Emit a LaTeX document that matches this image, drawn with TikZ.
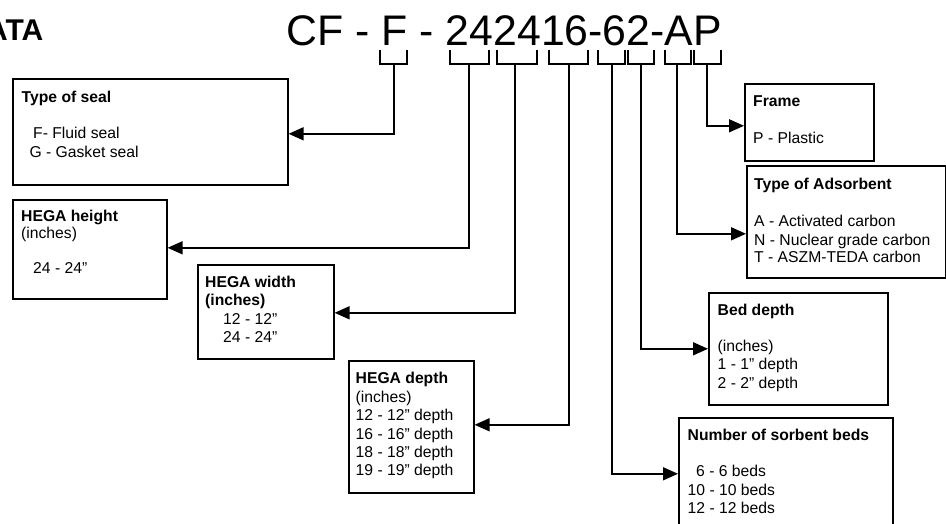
\documentclass[tikz,border=0pt]{standalone}
\usepackage{fontspec}
\setmainfont{Liberation Sans}
\usetikzlibrary{arrows.meta}
\begin{document}
\begin{tikzpicture}[x=1pt,y=-1pt,
  box/.style={draw, line width=1.6pt, rectangle, inner sep=0pt, anchor=north west},
  conn/.style={line width=1.5pt, -{Triangle[length=15pt,width=13pt]}},
  brk/.style={line width=1.4pt},
  txt/.style={anchor=base west, inner sep=0pt, font=\fontsize{15.7}{18}\selectfont},
  btxt/.style={anchor=base west, inner sep=0pt, font=\fontsize{15.7}{18}\selectfont\bfseries}]
\useasboundingbox (0,0) rectangle (946,523);

% heading and code
\node[anchor=base east, inner sep=0pt, font=\fontsize{30}{34}\selectfont\bfseries] (head) at (43.5,40.7) {ATA};
\node[anchor=base west, inner sep=0pt, font=\fontsize{42.8}{48}\selectfont] (code) at (286.5,45) {CF - F - 242416-62-AP};

% brackets
\draw[brk] (380,50) -- (380,64) -- (407,64) -- (407,50);
\draw[brk] (450,50) -- (450,64) -- (489,64) -- (489,50);
\draw[brk] (497,50) -- (497,64) -- (537,64) -- (537,50);
\draw[brk] (549,50) -- (549,64) -- (588,64) -- (588,50);
\draw[brk] (598,50) -- (598,64) -- (625,64) -- (625,50);
\draw[brk] (628,50) -- (628,64) -- (654,64) -- (654,50);
\draw[brk] (665,50) -- (665,64) -- (691,64) -- (691,50);
\draw[brk] (694,50) -- (694,64) -- (721,64) -- (721,50);
\coordinate (bSeal) at (394,64);
\coordinate (bHeight) at (469,64);
\coordinate (bWidth) at (515,64);
\coordinate (bDepth) at (569,64);
\coordinate (bBeds) at (612,64);
\coordinate (bBed) at (641,64);
\coordinate (bAds) at (677,64);
\coordinate (bFrame) at (707,64);

% boxes
\node[box, minimum width=275pt, minimum height=106pt] (seal) at (12,78) {};
\node[box, minimum width=154pt, minimum height=99pt] (height) at (12,199) {};
\node[box, minimum width=136pt, minimum height=94pt] (width) at (197,264) {};
\node[box, minimum width=125pt, minimum height=132pt] (depth) at (348,360) {};
\node[box, minimum width=129pt, minimum height=77pt] (frame) at (744,83) {};
\node[box, minimum width=199pt, minimum height=112pt] (ads) at (746,165) {};
\node[box, minimum width=179pt, minimum height=112pt] (bed) at (708,292) {};
\node[box, minimum width=214pt, minimum height=123pt] (beds) at (678,417) {};

% connectors
\draw[conn] (bSeal) |- ([yshift=-2pt]seal.east);
\draw[conn] (bHeight) |- ([yshift=1.5pt]height.east);
\draw[conn] (bWidth) |- ([yshift=-1pt]width.east);
\draw[conn] (bDepth) |- ([yshift=2pt]depth.east);
\draw[conn] (bFrame) |- ([yshift=-3.5pt]frame.west);
\draw[conn] (bAds) |- ([yshift=-12pt]ads.west);
\draw[conn] (bBed) |- (bed.west);
\draw[conn] (bBeds) |- ([yshift=5.5pt]beds.west);

% texts: type of seal
\node[btxt] (sealT) at (21.5,102) {Type of seal};
\node[txt] (sealA) at (33,138) {F- Fluid seal};
\node[txt] (sealB) at (29.3,157) {G - Gasket seal};
% HEGA height
\node[btxt] (heightT) at (21,221.7) {HEGA height};
\node[txt] (heightA) at (21,238) {(inches)};
\node[txt] (heightB) at (33,273.3) {24 - 24”};
% HEGA width
\node[btxt] (widthT) at (205,287.3) {HEGA width};
\node[btxt] (widthA) at (205,305) {(inches)};
\node[txt] (widthB) at (223,324) {12 - 12”};
\node[txt] (widthC) at (223,342.3) {24 - 24”};
% HEGA depth
\node[btxt] (depthT) at (355.5,383.3) {HEGA depth};
\node[txt] (depthA) at (355.5,402) {(inches)};
\node[txt] (depthB) at (355.5,420.7) {12 - 12” depth};
\node[txt] (depthC) at (355.5,439) {16 - 16” depth};
\node[txt] (depthD) at (355.5,457.3) {18 - 18” depth};
\node[txt] (depthE) at (355.5,475.7) {19 - 19” depth};
% Frame
\node[btxt] (frameT) at (753,106.7) {Frame};
\node[txt] (frameA) at (753,143.3) {P - Plastic};
% Adsorbent
\node[btxt] (adsT) at (754,189.3) {Type of Adsorbent};
\node[txt] (adsA) at (754,226.7) {A - Activated carbon};
\node[txt] (adsB) at (754,245) {N - Nuclear grade carbon};
\node[txt] (adsC) at (754,262.7) {T - ASZM-TEDA carbon};
% Bed depth
\node[btxt] (bedT) at (717.5,315) {Bed depth};
\node[txt] (bedA) at (717.5,351.5) {(inches)};
\node[txt] (bedB) at (717.5,369.5) {1 - 1” depth};
\node[txt] (bedC) at (717.5,388.3) {2 - 2” depth};
% Number of sorbent beds
\node[btxt] (bedsT) at (687.5,440) {Number of sorbent beds};
\node[txt] (bedsA) at (696,476.7) {6 - 6 beds};
\node[txt] (bedsB) at (687.5,495) {10 - 10 beds};
\node[txt] (bedsC) at (687.5,513.3) {12 - 12 beds};
\end{tikzpicture}
\end{document}
